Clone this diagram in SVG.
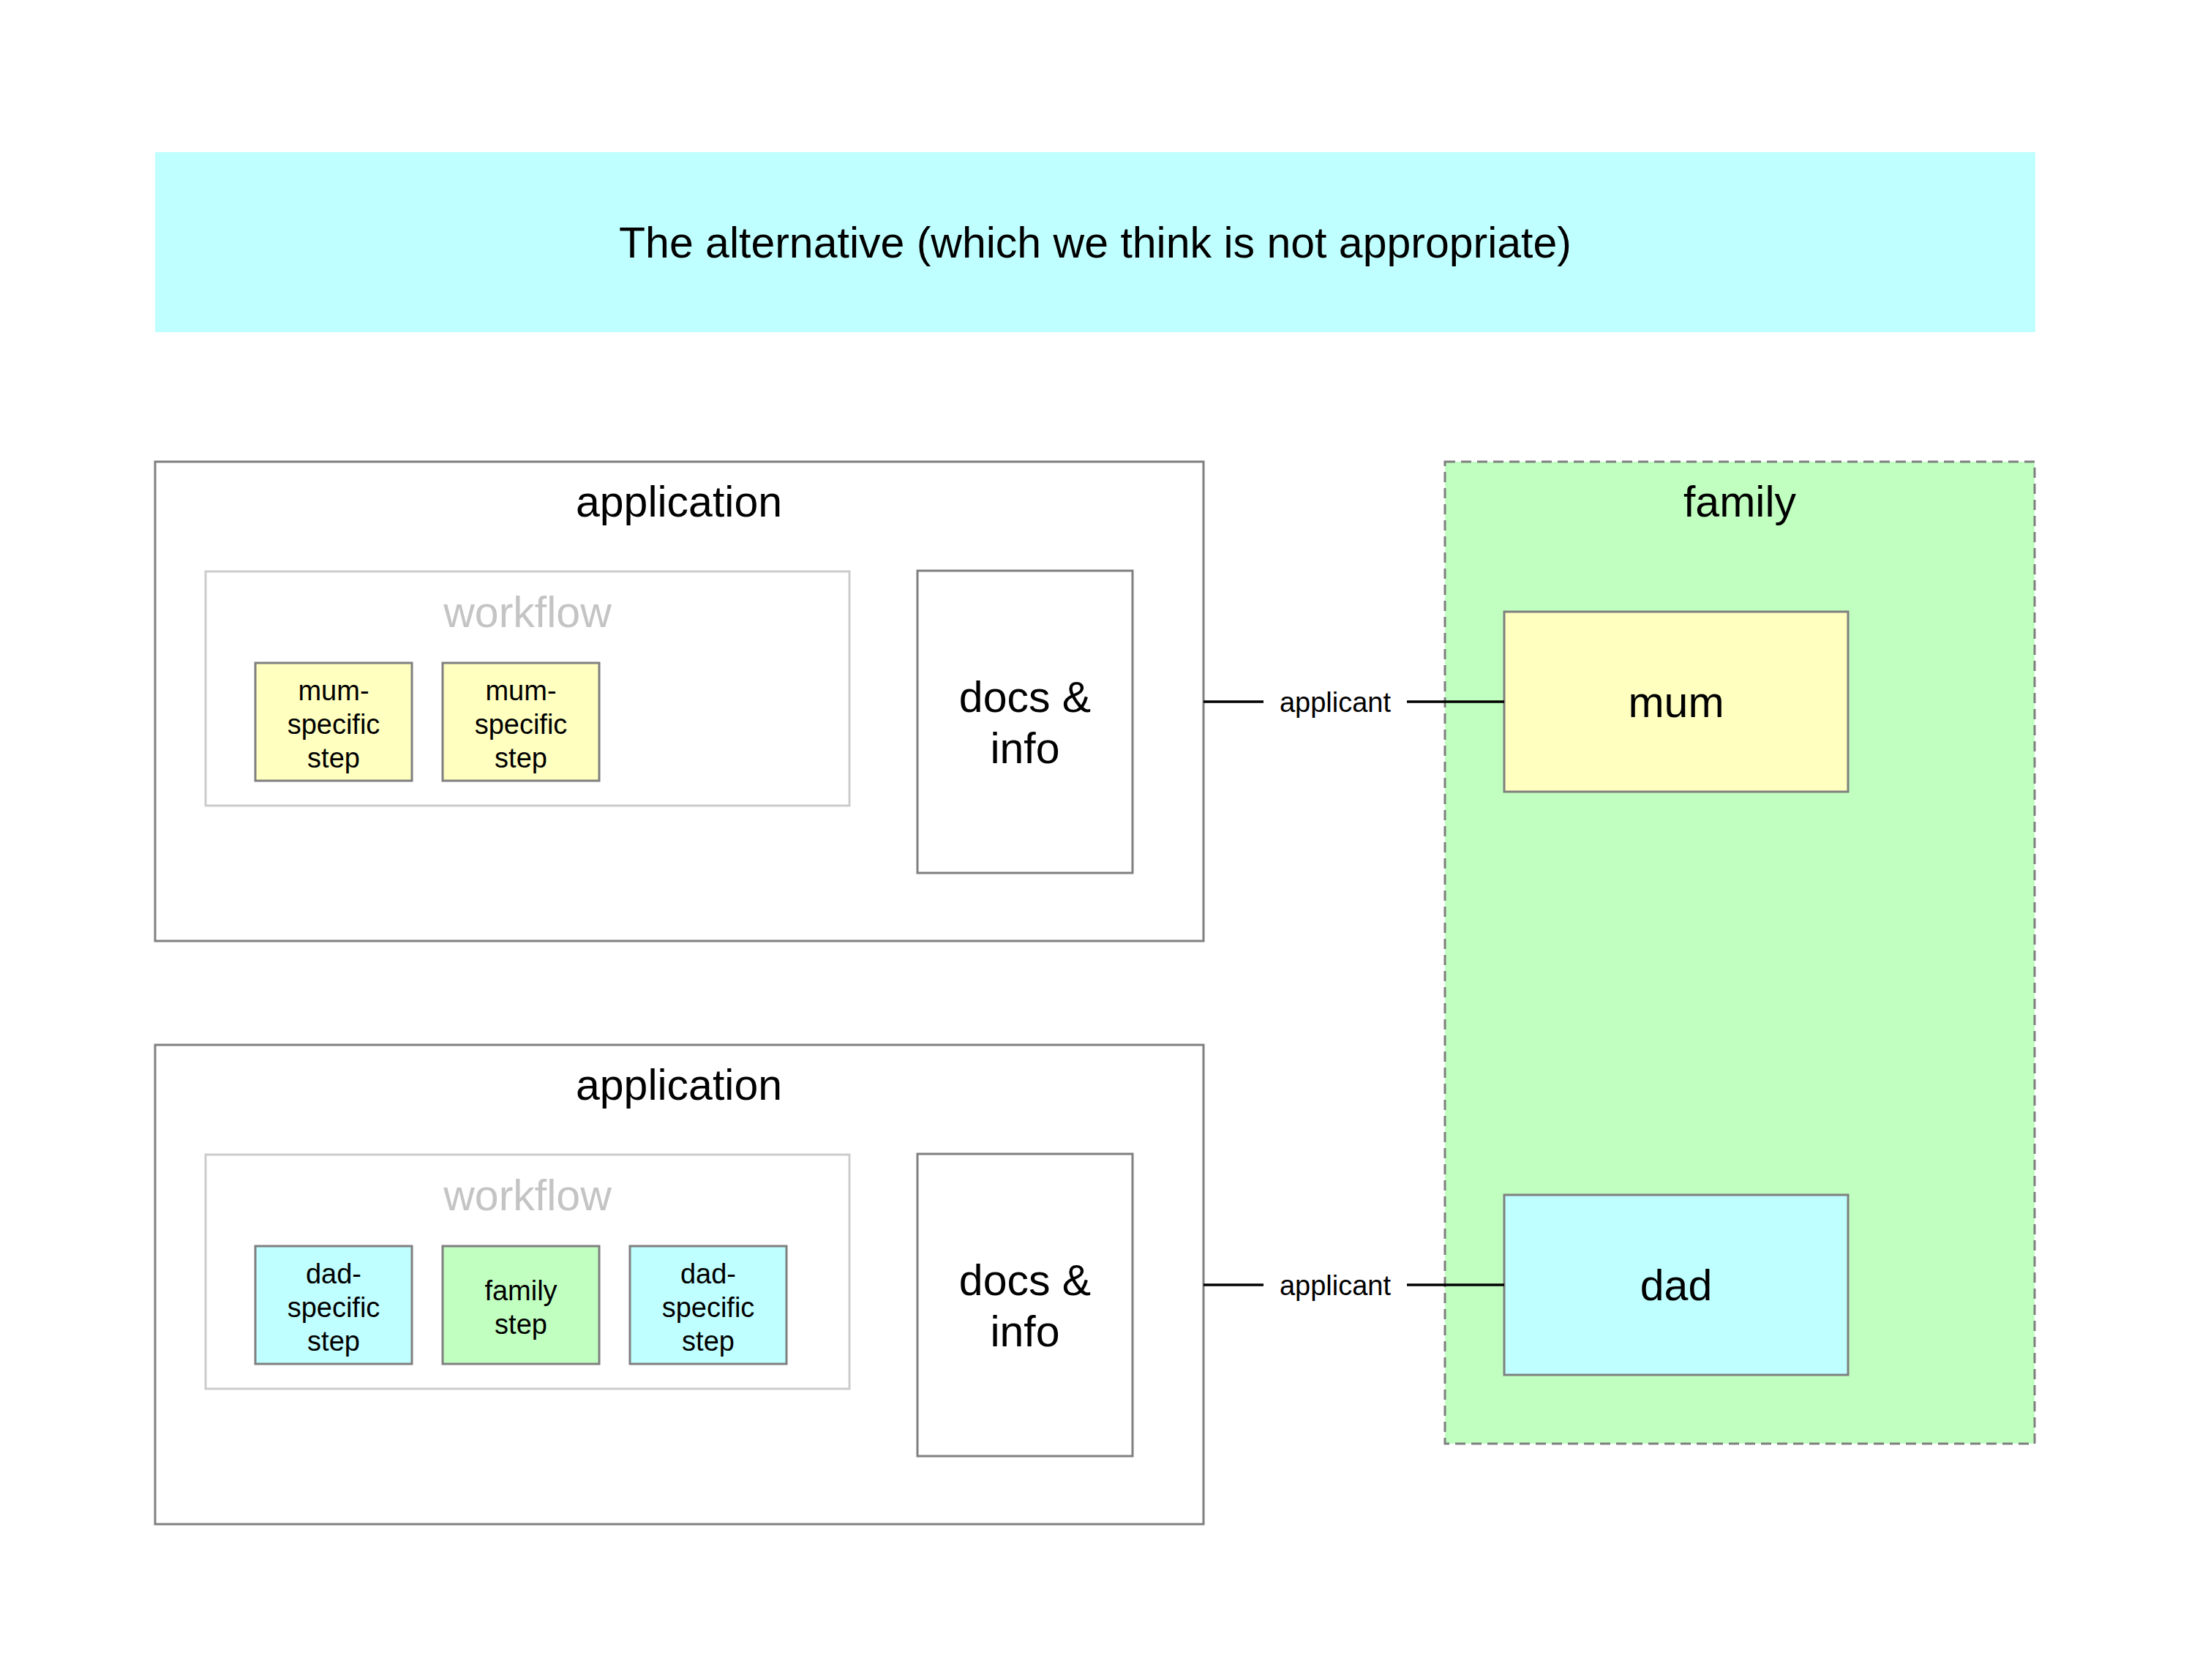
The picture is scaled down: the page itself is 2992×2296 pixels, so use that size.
<svg xmlns="http://www.w3.org/2000/svg" width="2992" height="2296" viewBox="0 0 2992 2296">
<style>
text{font-family:"Liberation Sans",Arial,Helvetica,sans-serif;fill:#000;text-anchor:middle}
.big{font-size:59px}
.sm{font-size:38px}
.wf{font-size:59px;fill:#c4c4c4}
.box{fill:#fff;stroke:#7f7f7f;stroke-width:3}
.wfbox{fill:#fff;stroke:#cccccc;stroke-width:3}
.mum{fill:#ffffc0;stroke:#7f7f7f;stroke-width:3}
.dad{fill:#c0ffff;stroke:#7f7f7f;stroke-width:3}
.fam{fill:#c0ffc0;stroke:#7f7f7f;stroke-width:3}
.conn{stroke:#000;stroke-width:3.5;fill:none}
</style>
<rect width="2992" height="2296" fill="#fff"/>
<g id="title">
<rect x="212" y="208" width="2570" height="246" fill="#c0ffff"/>
<text class="big" x="1497" y="352">The alternative (which we think is not appropriate)</text>
</g>
<g id="family">
<rect x="1975" y="631" width="806" height="1342" fill="#c0ffc0" stroke="#7f7f7f" stroke-width="3" stroke-dasharray="14 8"/>
<text class="big" x="2378" y="706">family</text>
</g>
<g id="mum">
<rect class="mum" x="2056" y="836" width="470" height="246"/>
<text class="big" x="2291" y="980">mum</text>
</g>
<g id="dad">
<rect class="dad" x="2056" y="1633" width="470" height="246"/>
<text class="big" x="2291" y="1777">dad</text>
</g>
<g id="application1">
<rect class="box" x="212" y="631" width="1433" height="655"/>
<text class="big" x="928" y="706">application</text>
</g>
<g id="workflow1">
<rect class="wfbox" x="281" y="781" width="880" height="320"/>
<text class="wf" x="721" y="857">workflow</text>
</g>
<g id="step1a">
<rect class="mum" x="349" y="906" width="214" height="161"/>
<text class="sm" x="456" y="957">mum-</text>
<text class="sm" x="456" y="1003">specific</text>
<text class="sm" x="456" y="1049">step</text>
</g>
<g id="step1b">
<rect class="mum" x="605" y="906" width="214" height="161"/>
<text class="sm" x="712" y="957">mum-</text>
<text class="sm" x="712" y="1003">specific</text>
<text class="sm" x="712" y="1049">step</text>
</g>
<g id="docs1">
<rect class="box" x="1254" y="780" width="294" height="413"/>
<text class="big" x="1401" y="973">docs &amp;</text>
<text class="big" x="1401" y="1043">info</text>
</g>
<g id="application2">
<rect class="box" x="212" y="1428" width="1433" height="655"/>
<text class="big" x="928" y="1503">application</text>
</g>
<g id="workflow2">
<rect class="wfbox" x="281" y="1578" width="880" height="320"/>
<text class="wf" x="721" y="1654">workflow</text>
</g>
<g id="step2a">
<rect class="dad" x="349" y="1703" width="214" height="161"/>
<text class="sm" x="456" y="1754">dad-</text>
<text class="sm" x="456" y="1800">specific</text>
<text class="sm" x="456" y="1846">step</text>
</g>
<g id="step2b">
<rect class="fam" x="605" y="1703" width="214" height="161"/>
<text class="sm" x="712" y="1777">family</text>
<text class="sm" x="712" y="1823">step</text>
</g>
<g id="step2c">
<rect class="dad" x="861" y="1703" width="214" height="161"/>
<text class="sm" x="968" y="1754">dad-</text>
<text class="sm" x="968" y="1800">specific</text>
<text class="sm" x="968" y="1846">step</text>
</g>
<g id="docs2">
<rect class="box" x="1254" y="1577" width="294" height="413"/>
<text class="big" x="1401" y="1770">docs &amp;</text>
<text class="big" x="1401" y="1840">info</text>
</g>
<g id="connectors">
<path class="conn" d="M1645 959H1727M1923 959H2056"/>
<text class="sm" x="1825" y="973">applicant</text>
<path class="conn" d="M1645 1756H1727M1923 1756H2056"/>
<text class="sm" x="1825" y="1770">applicant</text>
</g>
</svg>
